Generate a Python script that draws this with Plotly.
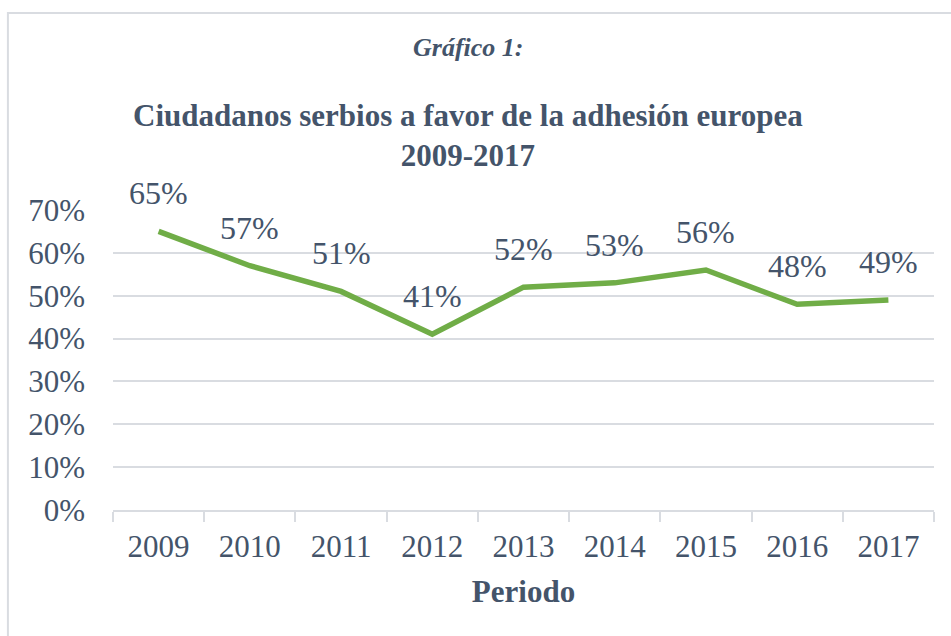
import plotly.graph_objects as go

years = ["2009", "2010", "2011", "2012", "2013", "2014", "2015", "2016", "2017"]
support = [65, 57, 51, 41, 52, 53, 56, 48, 49]
y_ticks = [0, 10, 20, 30, 40, 50, 60, 70]
y_tick_labels = [f"{v}%" for v in y_ticks]

TEXT = "#44546A"
FONT = "Liberation Serif"
GRID = "#D9DCE1"

fig = go.Figure()
fig.add_trace(go.Scatter(
    x=years, y=support, mode="lines",
    line=dict(color="#70AD47", width=5.5),
    hoverinfo="skip", showlegend=False,
))

# data labels (category index positions on the category axis)
for i, v in enumerate(support):
    fig.add_annotation(x=i, y=v, text=f"{v}%", showarrow=False, yshift=38,
                       font=dict(family=FONT, size=32, color=TEXT))

fig.add_annotation(xref="paper", yref="paper", x=0.432, y=1.543, yanchor="middle",
                   text="<i><b>Gráfico 1:</b></i>", showarrow=False,
                   font=dict(family=FONT, size=26, color=TEXT))
fig.add_annotation(xref="paper", yref="paper", x=0.432, y=1.247, yanchor="middle",
                   text="<b>Ciudadanos serbios a favor de la adhesión europea<br>2009-2017</b>",
                   showarrow=False,
                   font=dict(family=FONT, size=31, color=TEXT))

fig.add_shape(type="rect", xref="paper", yref="paper",
              x0=-0.128, y0=-0.6, x1=1.2, y1=1.657,
              line=dict(color="#D9DCE1", width=2), fillcolor="rgba(0,0,0,0)", layer="below")

fig.update_layout(
    width=951, height=636,
    margin=dict(l=113, r=17, t=210, b=126),
    paper_bgcolor="white", plot_bgcolor="white",
    font=dict(family=FONT, color=TEXT, size=31),
    xaxis=dict(
        type="category", tickson="boundaries", ticks="outside", ticklen=10,
        tickcolor=GRID, tickwidth=1.5, showgrid=False,
        showline=True, linecolor=GRID, linewidth=1.5,
        range=[-0.5, len(years) - 0.5],
        tickfont=dict(family=FONT, size=31, color=TEXT),
        ticklabelstandoff=8,
        title=dict(text="<b>Periodo</b>", font=dict(family=FONT, size=31, color=TEXT), standoff=17),
        automargin=False,
    ),
    yaxis=dict(
        range=[0, 70], tickvals=y_ticks, ticktext=y_tick_labels,
        showgrid=True, gridcolor=GRID, gridwidth=1.5, zeroline=False,
        tickfont=dict(family=FONT, size=31, color=TEXT),
        ticklabelstandoff=27, automargin=False,
    ),
)

fig.write_html("out.html", config={"displayModeBar": False},
               post_script="document.body.style.margin='0px';")
